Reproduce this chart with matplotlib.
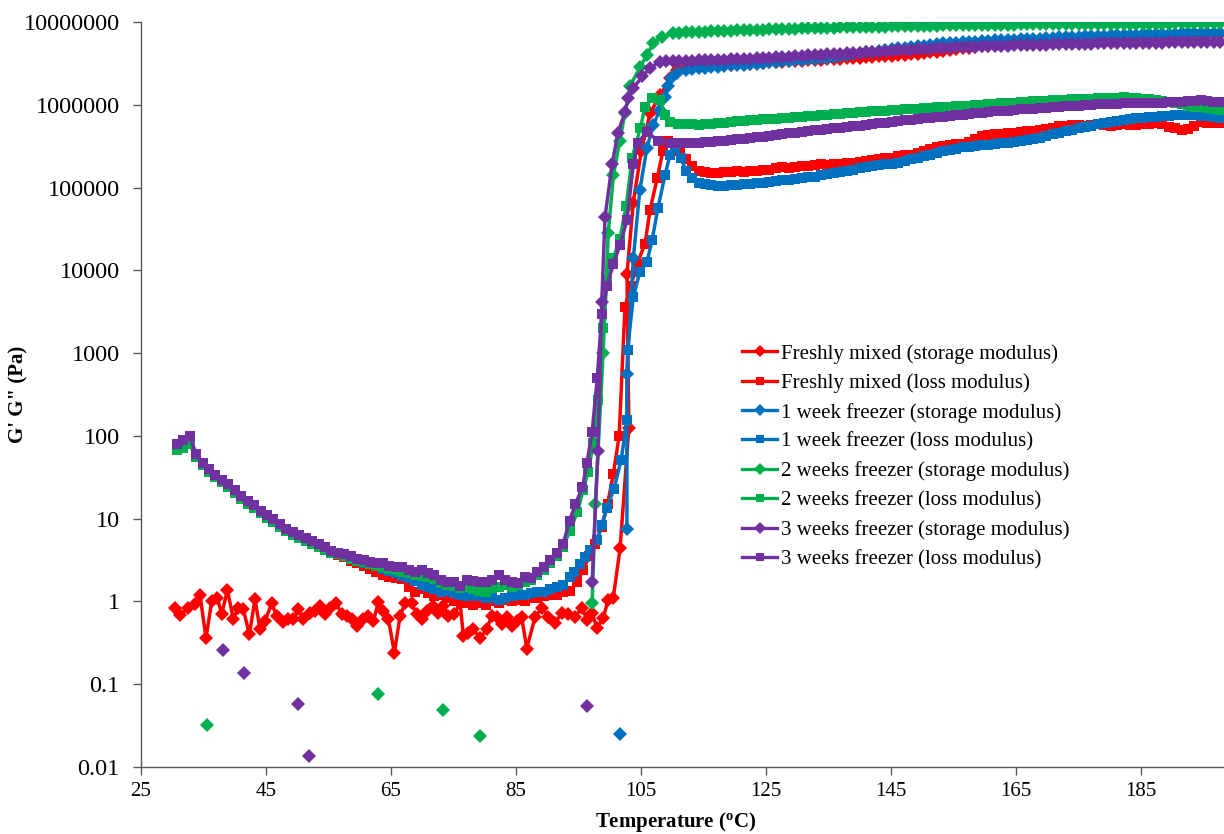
import numpy as np
import matplotlib
matplotlib.use("Agg")
import matplotlib.pyplot as plt
from matplotlib.ticker import NullLocator

plt.rcParams['font.family'] = ['Liberation Serif', 'DejaVu Serif']
plt.rcParams['mathtext.fontset'] = 'custom'
plt.rcParams['mathtext.rm'] = 'Liberation Serif'
plt.rcParams['mathtext.bf'] = 'Liberation Serif:bold'

# ---------------- data ----------------
# regular temperature ramps of the instrument (deg C)
t_low = np.arange(30.8, 93.7, 1.03)      # 62 samples, low-temperature part
t_plat = np.arange(112.2, 198.5, 1.03)   # 84 samples, cured plateau part

# Freshly mixed, storage modulus G'
fm_stor_T = [30.50, 31.30, 32.64, 33.70, 34.50, 35.46, 36.37, 37.28, 37.97, 38.88,
             39.84, 40.64, 41.44, 42.40, 43.30, 44.10, 44.90, 45.97, 46.77, 47.73,
             48.64, 49.44, 50.24, 51.04, 52.10, 52.90, 53.70, 54.50, 55.30, 56.26,
             57.17, 57.97, 58.77, 59.68, 60.64, 61.44, 62.24, 63.04, 63.84, 64.64,
             65.60, 66.50, 67.30, 68.37, 69.17, 69.97, 70.88, 71.84, 72.64, 73.44,
             74.24, 75.14, 76.10, 76.64, 77.44, 78.24, 79.30, 80.37, 81.17, 81.97,
             82.77, 83.57, 84.37, 85.17, 85.97, 86.77, 88.1, 89.2, 90.2, 91.3,
             92.4, 93.4, 94.5, 95.6, 96.4, 97.2, 98.0, 99.0, 99.8, 100.6,
             101.7, 103.1, 102.8, 103.8, 105.1, 106.5, 108.1, 109.7, 110.8]
fm_stor_G = [0.84, 0.68, 0.84, 0.92, 1.21, 0.36, 1.0, 1.1, 0.70, 1.37,
             0.61, 0.84, 0.80, 0.40, 1.06, 0.46, 0.58, 0.95, 0.67, 0.56,
             0.61, 0.61, 0.80, 0.61, 0.73, 0.77, 0.88, 0.70, 0.84, 0.96,
             0.70, 0.67, 0.61, 0.50, 0.61, 0.67, 0.58, 0.98, 0.77, 0.61,
             0.24, 0.67, 0.95, 0.95, 0.70, 0.61, 0.77, 0.88, 0.73, 0.88,
             0.67, 0.70, 0.96, 0.38, 0.42, 0.46, 0.36, 0.46, 0.67, 0.64,
             0.53, 0.64, 0.50, 0.58, 0.64, 0.27, 0.65, 0.84, 0.65, 0.55,
             0.73, 0.70, 0.65, 0.84, 0.60, 0.73, 0.48, 0.63, 1.05, 1.1,
             4.4, 125, 9000, 6.5e4, 2.8e5, 8.0e5, 1.3e6, 2.1e6, 2.6e6]
fm_stor_plat_MPa = [2.75, 2.8, 2.85, 2.9, 2.95, 3.0, 3.0, 3.05, 3.1, 3.1,
                    3.15, 3.2, 3.2, 3.25, 3.3, 3.3, 3.35, 3.4, 3.4, 3.45,
                    3.5, 3.5, 3.55, 3.6, 3.6, 3.65, 3.7, 3.7, 3.75, 3.8,
                    3.85, 3.9, 3.9, 3.95, 4.0, 4.05, 4.1, 4.2, 4.3, 4.4,
                    4.5, 4.6, 4.7, 4.8, 4.9, 5.0, 5.1, 5.2, 5.3, 5.4,
                    5.5, 5.6, 5.7, 5.8, 5.9, 6.0, 6.05, 6.1, 6.15, 6.2,
                    6.25, 6.3, 6.35, 6.4, 6.45, 6.5, 6.55, 6.6, 6.65, 6.7,
                    6.75, 6.8, 6.85, 6.9, 6.9, 6.95, 7.0, 7.0, 7.0, 7.05,
                    7.05, 7.1, 7.1, 7.1]

# Freshly mixed, loss modulus G''
fm_loss_low = [72, 76, 82, 55, 45, 38, 32, 28, 24.5, 21,
               18, 15.6, 13.6, 11.9, 10.4, 9.2, 8.2, 7.3, 6.6, 6.0,
               5.5, 5.0, 4.6, 4.2, 3.9, 3.6, 3.4, 3.1, 2.9, 2.7,
               2.5, 2.3, 2.1, 2.0, 1.9, 1.85, 1.5, 1.3, 1.4, 1.25,
               1.15, 1.2, 1.1, 1.0, 1.05, 0.95, 0.9, 0.95, 0.9, 1.0,
               0.95, 1.05, 1.0, 1.05, 1.0, 1.1, 1.1, 1.15, 1.2, 1.2,
               1.3, 1.35]
fm_loss_tr_T = [94.86, 95.78, 96.71, 97.74, 98.77, 99.70, 100.63, 101.55, 102.48, 103.41,
                104.44, 105.68, 106.50, 107.64, 108.56, 109.39, 110.31, 111.34]
fm_loss_tr_G = [1.7, 2.4, 3.5, 5, 8, 15, 35, 100, 3600, 6500,
                1.2e4, 2.1e4, 5.4e4, 1.3e5, 2.8e5, 3.7e5, 3.5e5, 2.8e5]
fm_loss_plat_e5 = [2.2, 1.8, 1.6, 1.55, 1.5, 1.5, 1.55, 1.55, 1.6, 1.55,
                   1.6, 1.6, 1.65, 1.65, 1.7, 1.75, 1.7, 1.75, 1.8, 1.8,
                   1.85, 1.9, 1.85, 1.9, 1.95, 2.0, 2.0, 2.05, 2.1, 2.15,
                   2.2, 2.25, 2.3, 2.4, 2.45, 2.5, 2.6, 2.75, 2.9, 3.1,
                   3.2, 3.3, 3.35, 3.4, 3.6, 3.9, 4.2, 4.3, 4.4, 4.4,
                   4.5, 4.6, 4.7, 4.8, 4.8, 5.0, 5.1, 5.3, 5.5, 5.6,
                   5.7, 5.7, 5.6, 5.7, 5.8, 5.7, 5.6, 5.7, 5.8, 5.7,
                   5.7, 5.8, 5.9, 6.0, 5.9, 5.4, 5.2, 5.0, 5.1, 5.6,
                   6.2, 6.1, 6.0, 6.0]

# 1 week freezer, storage modulus G'
w1_stor_iso_T = [101.7]
w1_stor_iso_G = [0.025]
w1_stor_T = [102.79, 102.79, 103.82, 104.85, 105.99, 107.02, 108.05, 108.87, 109.39, 109.90, 110.83]
w1_stor_G = [7.4, 560, 1.4e4, 9.3e4, 3.0e5, 5.7e5, 8.7e5, 1.25e6, 1.7e6, 2.1e6, 2.4e6]
w1_stor_plat_MPa = [2.6, 2.7, 2.75, 2.8, 2.85, 2.9, 2.95, 3.0, 3.0, 3.05,
                    3.1, 3.15, 3.2, 3.25, 3.3, 3.35, 3.4, 3.45, 3.5, 3.55,
                    3.6, 3.65, 3.7, 3.8, 3.9, 4.0, 4.1, 4.2, 4.3, 4.4,
                    4.5, 4.6, 4.7, 4.8, 4.9, 5.0, 5.1, 5.2, 5.3, 5.4,
                    5.5, 5.55, 5.6, 5.7, 5.75, 5.8, 5.9, 5.9, 6.0, 6.0,
                    6.1, 6.1, 6.2, 6.2, 6.3, 6.3, 6.4, 6.4, 6.5, 6.5,
                    6.6, 6.6, 6.7, 6.7, 6.8, 6.8, 6.9, 6.9, 7.0, 7.0,
                    7.0, 7.1, 7.1, 7.1, 7.2, 7.2, 7.2, 7.3, 7.3, 7.3,
                    7.3, 7.4, 7.4, 7.4]

# 1 week freezer, loss modulus G''
w1_loss_low = [72, 78, 85, 56, 45, 38, 32, 28, 24.5, 21,
               18, 15.6, 13.6, 11.9, 10.4, 9.2, 8.2, 7.3, 6.6, 6.0,
               5.5, 5.1, 4.7, 4.3, 4.0, 3.75, 3.5, 3.3, 3.1, 2.95,
               2.8, 2.65, 2.5, 2.35, 2.2, 2.05, 1.9, 1.75, 1.6, 1.5,
               1.4, 1.3, 1.35, 1.25, 1.2, 1.15, 1.2, 1.15, 1.1, 1.1,
               1.05, 1.1, 1.15, 1.2, 1.2, 1.25, 1.3, 1.3, 1.4, 1.5,
               1.6, 1.95]
w1_loss_tr_T = [94.34, 95.27, 96.09, 96.92, 98.05, 98.77, 99.60, 100.73, 101.86, 102.79,
                102.89, 103.82, 104.85, 105.99, 106.81, 107.74, 108.87, 109.70, 110.52, 111.45]
w1_loss_tr_G = [2.3, 2.8, 3.4, 4.2, 5.5, 8.5, 13.5, 23, 51, 155,
                1100, 4800, 9500, 1.26e4, 2.3e4, 5.6e4, 1.4e5, 2.5e5, 3.0e5, 2.3e5]
w1_loss_plat_e5 = [1.6, 1.3, 1.15, 1.1, 1.07, 1.05, 1.05, 1.07, 1.08, 1.1,
                   1.1, 1.12, 1.15, 1.17, 1.2, 1.22, 1.25, 1.28, 1.3, 1.33,
                   1.36, 1.4, 1.45, 1.5, 1.55, 1.6, 1.65, 1.7, 1.75, 1.8,
                   1.85, 1.9, 1.95, 2.0, 2.1, 2.2, 2.3, 2.4, 2.5, 2.65,
                   2.75, 2.85, 2.95, 3.05, 3.1, 3.2, 3.25, 3.3, 3.4, 3.45,
                   3.5, 3.6, 3.7, 3.8, 3.9, 4.0, 4.2, 4.4, 4.6, 4.8,
                   5.0, 5.2, 5.4, 5.6, 5.8, 6.0, 6.2, 6.4, 6.6, 6.8,
                   6.9, 7.0, 7.1, 7.2, 7.3, 7.4, 7.5, 7.6, 7.6, 7.5,
                   7.4, 7.3, 7.1, 7.0]

# 2 weeks freezer, storage modulus G'
w2_stor_iso_T = [35.7, 63.0, 73.3, 79.3]
w2_stor_iso_G = [0.032, 0.076, 0.049, 0.024]
w2_stor_T = [97.23, 97.74, 98.98, 99.80, 100.63, 101.66, 102.48, 103.31, 104.96, 105.99,
             107.02, 108.46, 110.11, 111.1]
w2_stor_G = [0.96, 15, 1000, 2.8e4, 1.4e5, 3.7e5, 8.0e5, 1.7e6, 2.9e6, 4.0e6,
             5.6e6, 6.6e6, 7.3e6, 7.4e6]
w2_stor_plat_MPa = [7.5, 7.55, 7.6, 7.65, 7.7, 7.75, 7.8, 7.85, 7.9, 8.0,
                    8.05, 8.1, 8.1, 8.15, 8.2, 8.25, 8.3, 8.3, 8.35, 8.4,
                    8.45, 8.5, 8.5, 8.55, 8.6, 8.6, 8.65, 8.7, 8.7, 8.75,
                    8.8, 8.8, 8.85, 8.9, 8.9, 8.95, 9.0, 9.0, 9.05, 9.05,
                    9.1, 9.1, 9.15, 9.15, 9.2, 9.2, 9.2, 9.25, 9.25, 9.3,
                    9.3, 9.3, 9.35, 9.35, 9.35, 9.4, 9.4, 9.4, 9.4, 9.45,
                    9.45, 9.45, 9.45, 9.45, 9.5, 9.5, 9.5, 9.5, 9.5, 9.5,
                    9.5, 9.55, 9.55, 9.55, 9.55, 9.55, 9.6, 9.6, 9.6, 9.6,
                    9.6, 9.6, 9.6, 9.6]

# 2 weeks freezer, loss modulus G''
w2_loss_low = [68, 72, 80, 55, 44, 37, 31.5, 27.5, 24, 20.5,
               17.5, 15.2, 13.3, 11.6, 10.2, 9.0, 8.0, 7.1, 6.4, 5.9,
               5.4, 5.0, 4.6, 4.2, 3.9, 3.7, 3.5, 3.3, 3.1, 3.0,
               2.8, 2.7, 2.6, 2.5, 2.4, 2.3, 2.2, 2.1, 2.05, 1.95,
               1.85, 1.65, 1.6, 1.55, 1.45, 1.5, 1.4, 1.35, 1.3, 1.45,
               1.5, 1.6, 1.5, 1.6, 1.7, 1.8, 2.1, 2.4, 2.9, 3.5,
               4.6, 7.0]
w2_loss_tr_T = [94.86, 95.78, 96.61, 97.43, 98.16, 98.98, 99.60, 100.63, 101.66, 102.69,
                103.62, 104.96, 105.68, 106.81, 108.05, 108.87, 109.70, 110.93]
w2_loss_tr_G = [12, 22, 37, 83, 270, 2000, 7600, 1.4e4, 2.4e4, 6.0e4,
                2.3e5, 5.3e5, 9.4e5, 1.2e6, 1.15e6, 7.6e5, 6.2e5, 5.9e5]
w2_loss_plat_e5 = [5.9, 5.8, 5.75, 5.8, 5.9, 6.0, 6.1, 6.2, 6.3, 6.4,
                   6.5, 6.6, 6.65, 6.7, 6.8, 6.9, 7.0, 7.1, 7.2, 7.3,
                   7.4, 7.5, 7.6, 7.7, 7.8, 7.9, 8.0, 8.1, 8.2, 8.3,
                   8.4, 8.5, 8.6, 8.7, 8.8, 8.9, 9.0, 9.1, 9.2, 9.3,
                   9.4, 9.5, 9.6, 9.7, 9.8, 9.9, 10.0, 10.1, 10.2, 10.4,
                   10.5, 10.6, 10.8, 10.9, 11.0, 11.1, 11.2, 11.3, 11.4, 11.5,
                   11.6, 11.7, 11.8, 11.9, 12.0, 12.1, 12.2, 12.2, 12.3, 12.2,
                   12.0, 11.8, 11.6, 11.3, 11.0, 10.7, 10.4, 10.1, 9.8, 9.5,
                   9.3, 9.1, 8.9, 8.7]

# 3 weeks freezer, storage modulus G'
w3_stor_iso_T = [38.2, 41.6, 50.2, 52.0, 96.4]
w3_stor_iso_G = [0.26, 0.138, 0.058, 0.0136, 0.054]
w3_stor_T = [97.23, 98.16, 98.77, 99.29, 100.42, 101.35, 102.48, 103.00, 103.82, 105.27,
             106.50, 108.05, 109.08, 110.11, 111.1]
w3_stor_G = [1.7, 65, 4200, 4.4e4, 1.9e5, 4.6e5, 8.1e5, 1.2e6, 1.6e6, 2.2e6,
             2.8e6, 3.3e6, 3.35e6, 3.38e6, 3.4e6]
w3_stor_plat_MPa = [3.4, 3.42, 3.44, 3.46, 3.48, 3.5, 3.52, 3.54, 3.56, 3.58,
                    3.6, 3.63, 3.66, 3.7, 3.74, 3.78, 3.82, 3.86, 3.9, 3.94,
                    3.98, 4.02, 4.06, 4.1, 4.15, 4.2, 4.24, 4.28, 4.32, 4.36,
                    4.4, 4.45, 4.5, 4.55, 4.6, 4.65, 4.7, 4.74, 4.78, 4.82,
                    4.86, 4.9, 4.94, 4.98, 5.02, 5.05, 5.08, 5.1, 5.13, 5.16,
                    5.2, 5.22, 5.25, 5.27, 5.3, 5.32, 5.34, 5.36, 5.38, 5.4,
                    5.42, 5.44, 5.46, 5.48, 5.5, 5.52, 5.53, 5.55, 5.56, 5.58,
                    5.6, 5.61, 5.62, 5.64, 5.65, 5.66, 5.68, 5.69, 5.7, 5.71,
                    5.72, 5.73, 5.74, 5.75]

# 3 weeks freezer, loss modulus G''
w3_loss_low = [80, 88, 100, 60, 47, 40, 34, 29.5, 26, 22,
               19, 16.5, 14.5, 12.5, 11, 9.8, 8.6, 7.6, 6.9, 6.3,
               5.8, 5.3, 4.9, 4.5, 4.1, 3.9, 3.7, 3.5, 3.3, 3.2,
               3.0, 2.9, 2.9, 2.7, 2.6, 2.6, 2.4, 2.3, 2.4, 2.2,
               2.1, 1.8, 1.7, 1.7, 1.55, 1.8, 1.75, 1.7, 1.7, 1.8,
               2.1, 1.8, 1.7, 1.65, 2.0, 1.9, 2.3, 2.6, 3.2, 3.8,
               5.0, 9.5]
w3_loss_tr_T = [94.55, 95.68, 96.40, 97.23, 98.05, 98.77, 99.60, 100.63, 101.66, 102.79,
                103.82, 104.54, 105.99, 107.74, 109.70, 110.93]
w3_loss_tr_G = [15, 24, 47, 112, 500, 3000, 6500, 1.2e4, 2.0e4, 4.0e4,
                1.9e5, 3.5e5, 4.7e5, 3.7e5, 3.5e5, 3.45e5]
w3_loss_plat_e5 = [3.45, 3.45, 3.5, 3.55, 3.6, 3.65, 3.7, 3.8, 3.85, 3.9,
                   4.0, 4.05, 4.1, 4.2, 4.3, 4.4, 4.5, 4.6, 4.7, 4.8,
                   4.9, 5.0, 5.1, 5.2, 5.3, 5.4, 5.5, 5.6, 5.7, 5.85,
                   6.0, 6.1, 6.2, 6.35, 6.5, 6.6, 6.7, 6.85, 7.0, 7.1,
                   7.2, 7.35, 7.5, 7.6, 7.75, 7.9, 8.0, 8.15, 8.3, 8.4,
                   8.5, 8.65, 8.8, 8.9, 9.0, 9.1, 9.2, 9.35, 9.5, 9.6,
                   9.7, 9.8, 9.9, 10.0, 10.1, 10.2, 10.3, 10.3, 10.4, 10.4,
                   10.5, 10.4, 10.5, 10.6, 10.6, 10.8, 10.7, 10.9, 11.0, 11.2,
                   11.4, 11.1, 10.8, 10.7]

labels = ["Freshly mixed (storage modulus)", "Freshly mixed (loss modulus)",
          "1 week freezer (storage modulus)", "1 week freezer (loss modulus)",
          "2 weeks freezer (storage modulus)", "2 weeks freezer (loss modulus)",
          "3 weeks freezer (storage modulus)", "3 weeks freezer (loss modulus)"]
colors = ["#FF0000", "#0070C0", "#00B050", "#7030A0"]

x_ticks = [25, 45, 65, 85, 105, 125, 145, 165, 185]
y_ticks = [0.01, 0.1, 1, 10, 100, 1000, 10000, 100000, 1000000, 10000000]
y_tick_labels = ["0.01", "0.1", "1", "10", "100", "1000", "10000", "100000", "1000000", "10000000"]

# ---------------- assemble series ----------------
def cat(*parts):
    return np.concatenate([np.asarray(p, dtype=float) for p in parts])

series = [
    # (T, G, marker, color_index, isoT, isoG)
    (cat(fm_stor_T, t_plat), cat(fm_stor_G, np.array(fm_stor_plat_MPa) * 1e6), 'D', 0, None, None),
    (cat(t_low, fm_loss_tr_T, t_plat), cat(fm_loss_low, fm_loss_tr_G, np.array(fm_loss_plat_e5) * 1e5), 's', 0, None, None),
    (cat(w1_stor_T, t_plat), cat(w1_stor_G, np.array(w1_stor_plat_MPa) * 1e6), 'D', 1, w1_stor_iso_T, w1_stor_iso_G),
    (cat(t_low, w1_loss_tr_T, t_plat), cat(w1_loss_low, w1_loss_tr_G, np.array(w1_loss_plat_e5) * 1e5), 's', 1, None, None),
    (cat(w2_stor_T, t_plat), cat(w2_stor_G, np.array(w2_stor_plat_MPa) * 1e6), 'D', 2, w2_stor_iso_T, w2_stor_iso_G),
    (cat(t_low, w2_loss_tr_T, t_plat), cat(w2_loss_low, w2_loss_tr_G, np.array(w2_loss_plat_e5) * 1e5), 's', 2, None, None),
    (cat(w3_stor_T, t_plat), cat(w3_stor_G, np.array(w3_stor_plat_MPa) * 1e6), 'D', 3, w3_stor_iso_T, w3_stor_iso_G),
    (cat(t_low, w3_loss_tr_T, t_plat), cat(w3_loss_low, w3_loss_tr_G, np.array(w3_loss_plat_e5) * 1e5), 's', 3, None, None),
]

# ---------------- figure ----------------
fig = plt.figure(figsize=(12.24, 8.34), dpi=100)
ax = fig.add_axes([140.6 / 1224, 1 - 767 / 834, 1 - 140.6 / 1224, (767 - 22) / 834])

handles = []
for (T, G, mk, ci, iT, iG), lab in zip(series, labels):
    ms = 7.3 if mk == 'D' else 6.8
    ax.plot(T, G, color=colors[ci], lw=2.5, marker=mk, ms=ms,
            markeredgewidth=0, zorder=3)
    if iT is not None:
        ax.plot(iT, iG, linestyle='none', color=colors[ci], marker=mk, ms=ms,
                markeredgewidth=0, zorder=3)
    h, = ax.plot([], [], color=colors[ci], lw=2.4, marker=mk,
                 ms=(5.8 if mk == 'D' else 5.2), markeredgewidth=0, label=lab)
    handles.append(h)

ax.set_yscale('log')
ax.set_xlim(25, 198.3)
ax.set_ylim(0.01, 1e7)
ax.set_xticks(x_ticks)
ax.set_yticks(y_ticks)
ax.set_yticklabels(y_tick_labels)
ax.yaxis.set_minor_locator(NullLocator())
ax.xaxis.set_minor_locator(NullLocator())

for s in ['top', 'right']:
    ax.spines[s].set_visible(False)
for s in ['left', 'bottom']:
    ax.spines[s].set_color('#595959')
    ax.spines[s].set_linewidth(1.0)
ax.tick_params(axis='both', direction='out', length=6, width=1, color='#595959')
ax.tick_params(axis='x', labelsize=15, pad=5)
ax.tick_params(axis='y', labelsize=17.5, pad=9)

ax.set_xlabel(r"Temperature ($\mathbf{^{o}}$C)", fontsize=15, fontweight='bold')
ax.xaxis.set_label_coords((676 - 140.6) / (1224 - 140.6), -(822 - 767) / 745, transform=ax.transAxes)
ax.xaxis.label.set_verticalalignment('center')
ax.set_ylabel("G' G\" (Pa)", fontsize=15, fontweight='bold')
ax.yaxis.set_label_coords(-(140.6 - 18) / (1224 - 140.6), 0.5, transform=ax.transAxes)
ax.yaxis.label.set_verticalalignment('center')

leg = ax.legend(handles=handles, loc='upper left',
                bbox_to_anchor=(742 / 1224, 1 - 344 / 834), bbox_transform=fig.transFigure,
                frameon=False, fontsize=15, handlelength=1.7, handletextpad=0.15,
                labelspacing=0.46, borderpad=0, borderaxespad=0)

fig.savefig("out.png", dpi=100)
